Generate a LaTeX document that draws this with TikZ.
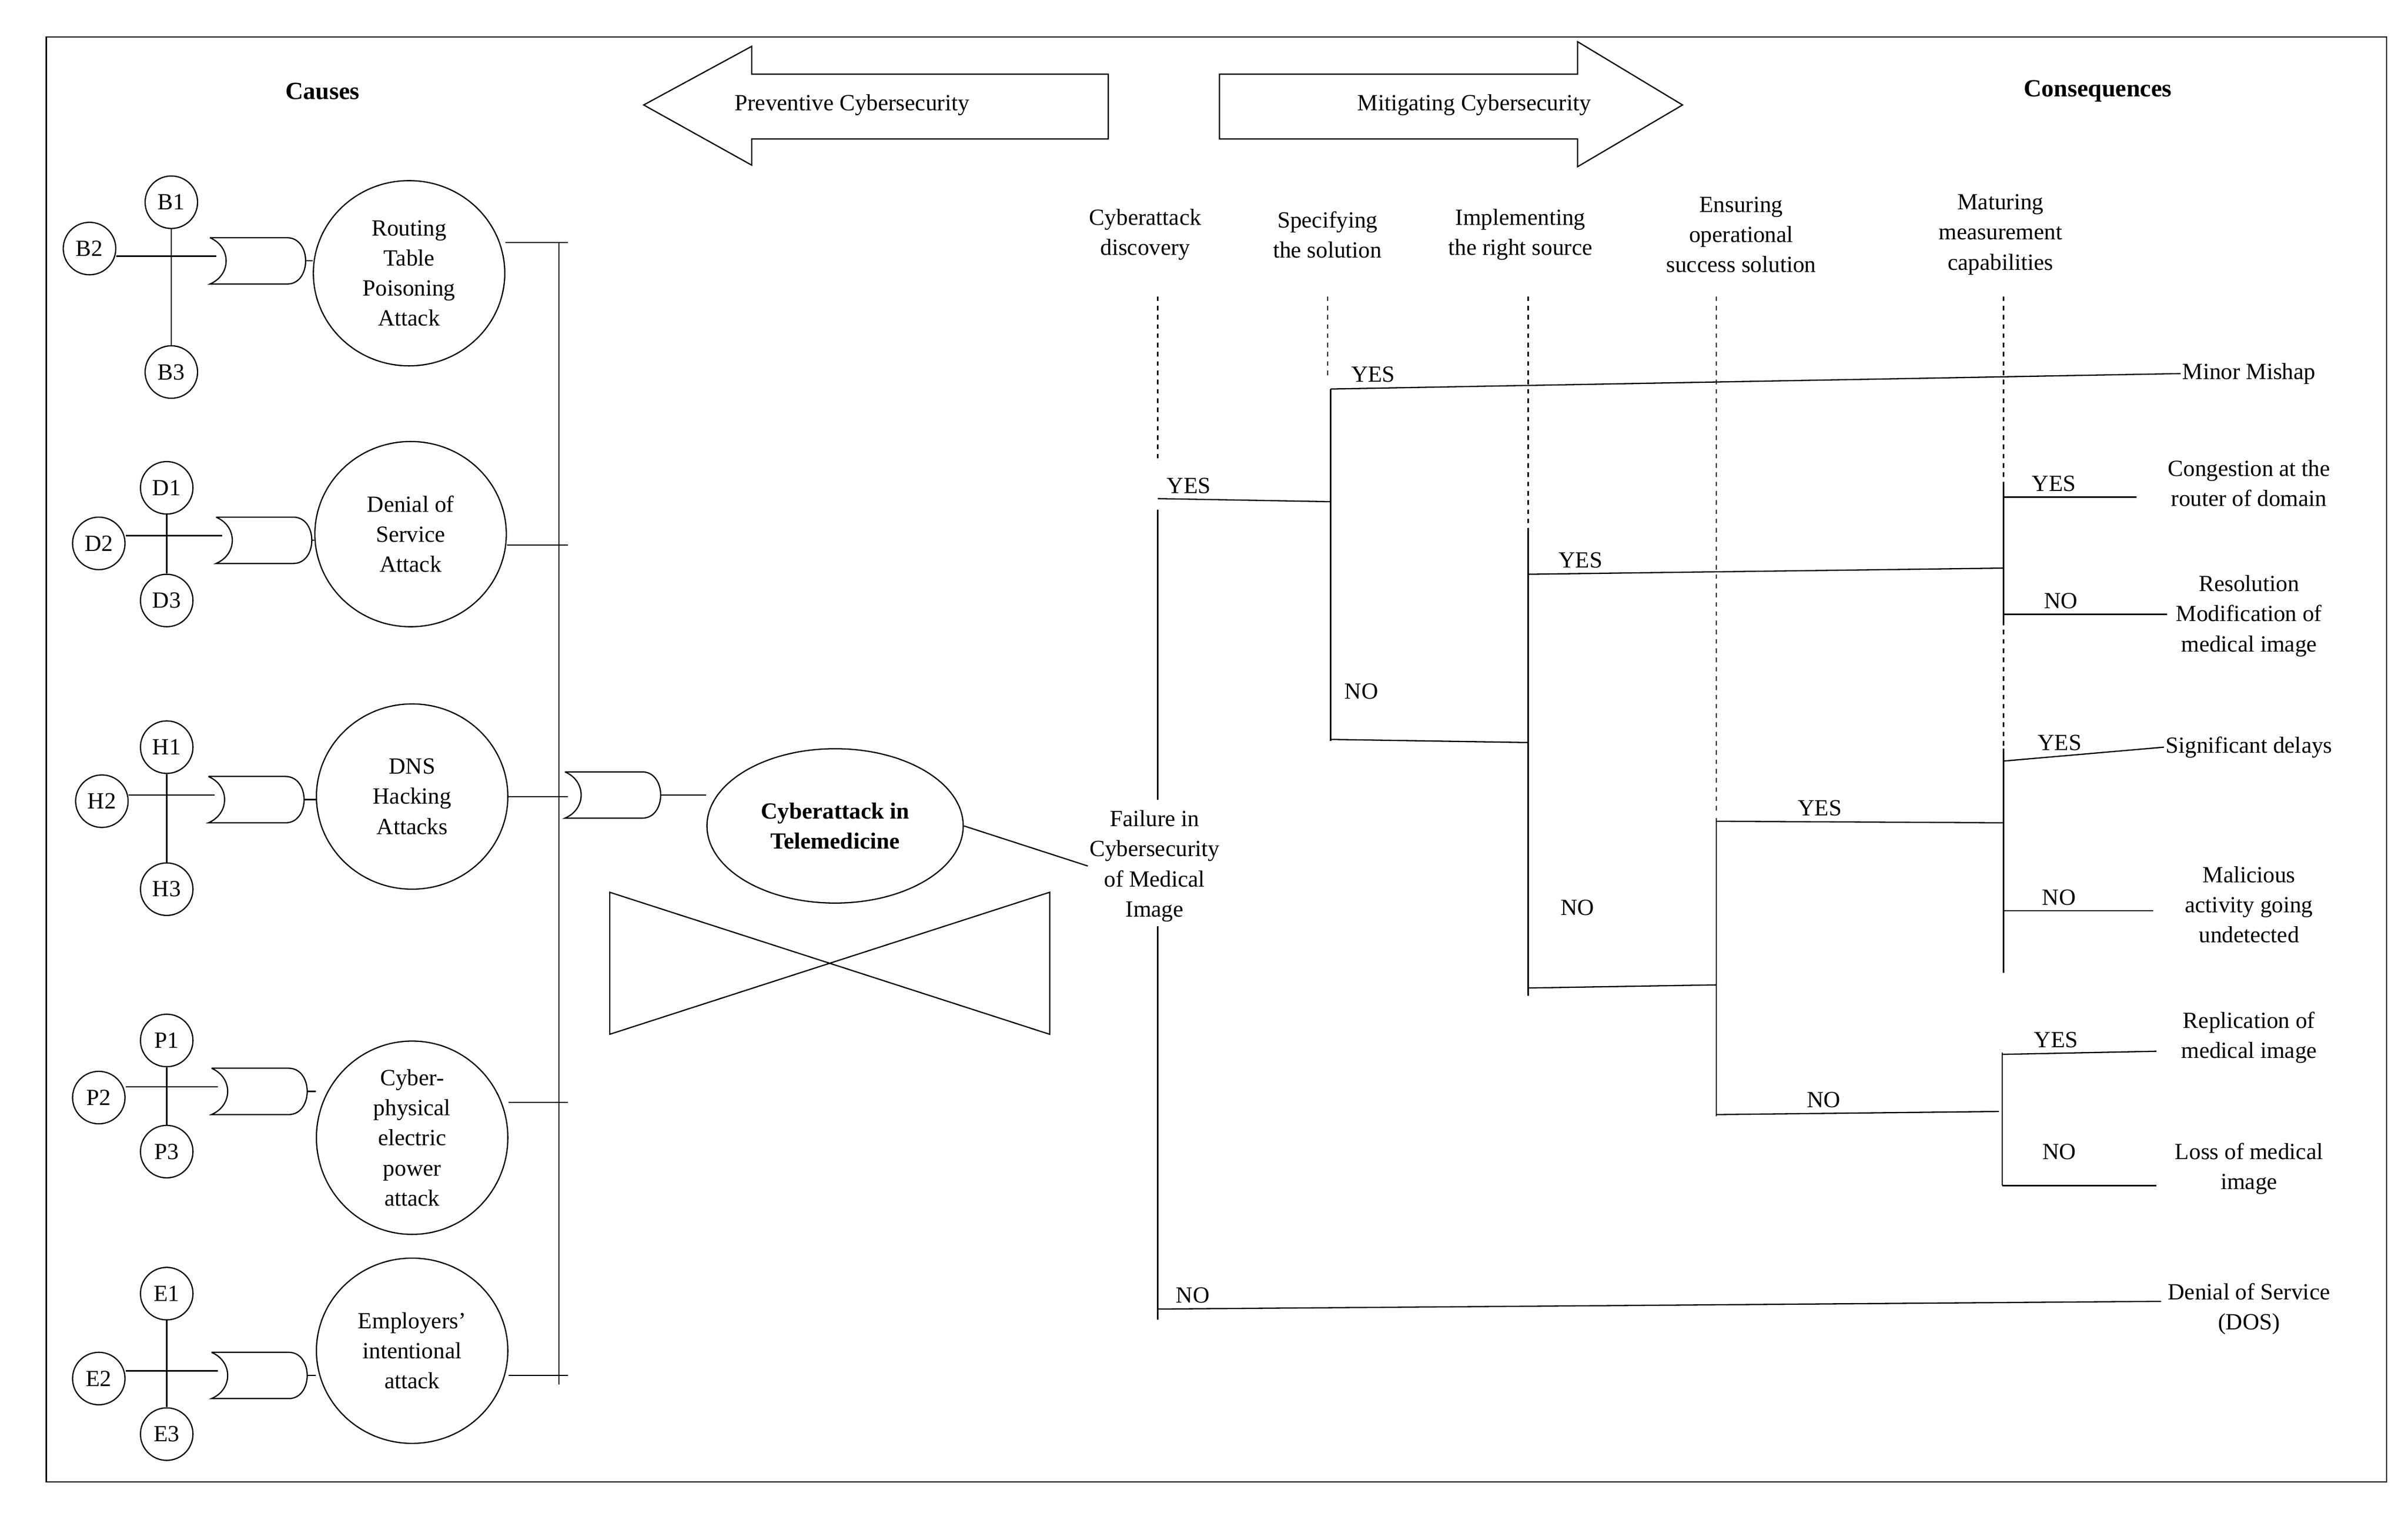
\documentclass[tikz,border=0pt]{standalone}
\usepackage{fontspec}
\setmainfont{Liberation Serif}
\begin{document}
\begin{tikzpicture}[x=1pt,y=-1pt,
  every node/.style={font=\fontsize{15}{19.5}\selectfont},
  sm/.style={circle,draw,thick,minimum size=34pt,inner sep=0pt},
  big/.style={ellipse,draw,thick,minimum width=124pt,minimum height=120pt,align=center,inner sep=0pt},
  ln/.style={draw,thick},
  dl/.style={draw,thick,dashed,dash pattern=on 3pt off 3pt},
  lab/.style={align=center,inner sep=1pt},
  gate/.pic={\draw[thick] (0,-15) -- (50,-15) .. controls (66,-15) and (66,15) .. (50,15) -- (0,15) .. controls (14,9) and (14,-9) .. (0,-15);}
]
\useasboundingbox (0,0) rectangle (1560,980);
\draw[thick] (30,24) rectangle (1546,960);
\usetikzlibrary{shapes.geometric}
\node[font=\fontsize{16}{19}\selectfont\bfseries] (causes) at (209,59) {Causes};
\node[font=\fontsize{16}{19}\selectfont\bfseries] (cons) at (1359,59) {Consequences};
% arrows
\draw[thick] (718,48) -- (487,48) -- (487,30) -- (417,68) -- (487,107) -- (487,90) -- (718,90) -- cycle;
\node (prev) at (552,68) {Preventive Cybersecurity};
\draw[thick] (790,48) -- (1022,48) -- (1022,27) -- (1090,68) -- (1022,108) -- (1022,90) -- (790,90) -- cycle;
\node (mit) at (955,68) {Mitigating Cybersecurity};
% groups
\foreach \L/\a/\b/\c/\bx/\by/\ax/\ay/\cy/\gx/\gy/\cx/\ccy/\ly/\t in {
 B/B1/B2/B3/58/161/111/131/241/136/169/265/177/157/{Routing\\Table\\Poisoning\\Attack},
 D/D1/D2/D3/64/352/108/316/389/140/350/266/346/353/{Denial of\\Service\\Attack},
 H/H1/H2/H3/66/519/108/484/576/135/518/267/516/516/{DNS\\Hacking\\Attacks},
 P/P1/P2/P3/64/711/108/674/746/137/707/267/737/714/{Cyber-\\physical\\electric\\power\\attack},
 E/E1/E2/E3/64/893/108/838/929/137/891/267/875/891/{Employers'\\intentional\\attack}}{
 \node[sm] (\a) at (\ax,\ay) {\a};
 \node[sm] (\b) at (\bx,\by) {\b};
 \node[sm] (\c) at (\ax,\cy) {\c};
 \node[big] (C\L) at (\cx,\ccy) {\t};
 \coordinate (hx\L) at (\gx+4,\gy-3);
 \draw[thick] (\b.east |- hx\L) -- (hx\L);
 \draw[thick] (\a) -- (\c);
 \pic at (\gx,\gy) {gate};
 \coordinate (go\L) at (\gx+62,\gy);
 \draw[thick] (go\L) -- (C\L.west |- go\L);
 \coordinate (bus\L) at (362,\ly);
 \draw[thick] (C\L.east |- bus\L) -- (bus\L) -- ++(6,0);
}
\draw[thick] (362,157) -- (362,897);
\pic at (366,515) {gate};
\node[ellipse,draw,thick,minimum width=166pt,minimum height=100pt,align=center,inner sep=0pt,font=\fontsize{15}{19.5}\selectfont\bfseries] (cyb) at (541,535) {Cyberattack in\\Telemedicine};
\coordinate (mg) at (428,515);
\draw[thick] (mg) -- (cyb.west |- mg);
\node[lab] (fail) at (748,561) {Failure in\\Cybersecurity\\of Medical\\Image};
\draw[thick] (cyb.east) -- (fail.west);
\draw[thick] (395,578) -- (680,670) -- (680,578) -- (395,670) -- cycle;
% headers
\node[lab] (h1) at (742,152) {Cyberattack\\discovery};
\node[lab] (h2) at (860,152) {Specifying\\the solution};
\node[lab] (h3) at (985,152) {Implementing\\the right source};
\node[lab] (h4) at (1128,152) {Ensuring\\operational\\success solution};
\node[lab] (h5) at (1296,152) {Maturing\\measurement\\capabilities};
\draw[dl] (750,192) -- (750,300);
\draw[dl] (860,192) -- (860,245);
\draw[dl] (990,192) -- (990,345);
\draw[dl] (1112,192) -- (1112,525);
\draw[dl] (1298,192) -- (1298,630);
% consequences
\node[lab] (c1) at (1457,242) {Minor Mishap};
\node[lab] (c2) at (1457,313) {Congestion at the\\router of domain};
\node[lab] (c3) at (1457,399) {Resolution\\Modification of\\medical image};
\node[lab] (c4) at (1457,484) {Significant delays};
\node[lab] (c5) at (1457,586) {Malicious\\activity going\\undetected};
\node[lab] (c6) at (1457,672) {Replication of\\medical image};
\node[lab] (c7) at (1457,757) {Loss of medical\\image};
\node[lab] (c8) at (1457,848) {Denial of Service\\(DOS)};
% tree
\draw[thick] (750,330) -- (750,518);
\draw[thick] (750,600) -- (750,855);
\draw[thick] (750,323) -- (862,325) node[pos=0.18,above] {YES};
\draw[thick] (862,252) -- (862,480);
\draw[thick] (862,252) -- (c1.west) node[pos=0.05,above] {YES};
\draw[thick] (862,479) -- (990,481);
\node (n1) at (882,448) {NO};
\draw[thick] (990,345) -- (990,645);
\draw[thick] (990,372) -- (1298,368) node[pos=0.11,above] {YES};
\draw[thick] (1298,315) -- (1298,405);
\draw[thick] (1298,322) -- (1384,322) node[pos=0.38,above] {YES};
\draw[thick] (1298,398) -- (1404,398) node[pos=0.35,above] {NO};
\draw[thick] (990,640) -- (1112,638);
\node (n2) at (1022,588) {NO};
\draw[thick] (1112,530) -- (1112,723);
\draw[thick] (1112,532) -- (1298,533) node[pos=0.36,above] {YES};
\draw[thick] (1298,485) -- (1298,630);
\draw[thick] (1298,493) -- (c4.west) node[pos=0.35,above] {YES};
\draw[thick] (1298,590) -- (1395,590) node[pos=0.37,above] {NO};
\draw[thick] (1112,722) -- (1295,720) node[pos=0.38,above] {NO};
\draw[thick] (1297,682) -- (1297,768);
\draw[thick] (1297,683) -- (1397,681) node[pos=0.35,above] {YES};
\draw[thick] (1297,768) -- (1397,768);
\node (n3) at (1334,746) {NO};
\draw[thick] (750,848) -- (1400,843) node[pos=0.035,above] {NO};
\end{tikzpicture}
\end{document}
